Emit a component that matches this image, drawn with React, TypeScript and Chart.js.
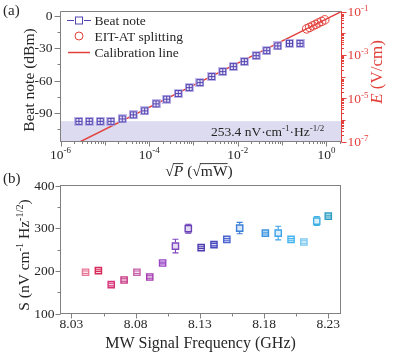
import React, { useEffect, useRef } from 'react';
import { Chart, registerables } from 'chart.js';

Chart.register(...registerables);

const FONT = '"Liberation Serif", "Times New Roman", serif';
const GRAY = '#808080';
const TEXT = '#262626';
const RED = '#e2403b';
const BEAT = '#5244b0';

// ---------- Panel (a) data ----------
const beatSqrtP = [2.6e-6, 4.45e-6, 7.87e-6, 1.37e-5, 2.47e-5, 4.38e-5, 7.9e-5, 1.43e-4, 2.48e-4, 4.54e-4, 8.0e-4, 1.4e-3, 2.58e-3, 4.56e-3, 7.9e-3, 0.014, 0.0258, 0.0449, 0.0796, 0.146, 0.253];
const beatNoteDbm = [-97.6, -97.6, -97.6, -97.6, -95.3, -91.6, -87.9, -81.4, -77.1, -71.9, -66.4, -61.8, -56.2, -51.6, -47.0, -42.4, -36.9, -32.3, -27.9, -25.5, -25.5];
const eitSqrtP = [0.357, 0.417, 0.49, 0.569, 0.66, 0.776, 0.912];
const eitField = [0.0158, 0.0185, 0.0218, 0.0254, 0.0296, 0.0348, 0.0411];
const calSqrtP = [1e-6, 2.2];
const calField = [3.45e-8, 0.1008];
const noiseFloorDbm = -97.4;

const aLeftTicks = [0, -30, -60, -90];
const aLeftMinor = [-15, -45, -75, -105];
const aBottomExp = [-6, -4, -2, 0];
const aRightExp = [-7, -5, -3, -1];

// ---------- Panel (b) data ----------
const freqGHz = [8.041, 8.051, 8.061, 8.071, 8.081, 8.091, 8.101, 8.111, 8.121, 8.131, 8.141, 8.151, 8.161, 8.181, 8.191, 8.201, 8.211, 8.221, 8.230];
const sensitivity = [196.6, 200.6, 167.8, 178.6, 196.6, 185.6, 218.4, 258, 298.8, 254.4, 261.4, 273.8, 300.2, 288.5, 288.5, 273.8, 267.5, 316.6, 328.3];
const sensErr = [3, 2, 3, 3, 3, 3, 2, 16, 10.5, 2, 3, 2, 13.3, 2, 16, 2, 3, 10.5, 2];
const pointColors = ['#e8789a', '#d82a5a', '#d8347a', '#c83886', '#c860a8', '#a63cb0', '#9a48c8', '#8048c0', '#6a40b8', '#4c3cb0', '#4848c0', '#4a64d0', '#3a7ed8', '#3c94e0', '#3ea4e8', '#44b4f0', '#78c8f0', '#3eb0e4', '#2c9ec4'];
const bYTicks = [100, 200, 300, 400];
const bYMinor = [150, 250, 350];
const bXTicks = [8.03, 8.08, 8.13, 8.18, 8.23];
const bXMinor = [8.055, 8.105, 8.155, 8.205];

type Part = { t: string; sup?: boolean; it?: boolean; over?: boolean };

function partFont(p: Part, size: number) {
  const s = p.sup ? size * 0.66 : size;
  return `${p.it ? 'italic ' : ''}${s}px ${FONT}`;
}

function drawRich(ctx: any, parts: Part[], x: number, y: number, size: number, align: string, color: string) {
  const ws: number[] = [];
  let w = 0;
  parts.forEach((p) => {
    ctx.font = partFont(p, size);
    const pw = ctx.measureText(p.t).width;
    ws.push(pw);
    w += pw;
  });
  let cx = align === 'center' ? x - w / 2 : align === 'right' ? x - w : x;
  ctx.fillStyle = color;
  ctx.strokeStyle = color;
  ctx.textAlign = 'left';
  ctx.textBaseline = 'alphabetic';
  parts.forEach((p, i) => {
    ctx.font = partFont(p, size);
    const dy = p.sup ? -size * 0.38 : 0;
    ctx.fillText(p.t, cx, y + dy);
    if (p.over) {
      ctx.beginPath();
      ctx.lineWidth = 0.9;
      ctx.moveTo(cx - 1, y - size * 0.8);
      ctx.lineTo(cx + ws[i], y - size * 0.8);
      ctx.stroke();
    }
    cx += ws[i];
  });
}

function makeBeatMarker() {
  const c = document.createElement('canvas');
  c.width = 9;
  c.height = 9;
  const g = c.getContext('2d')!;
  g.fillStyle = 'rgba(175,165,228,0.75)';
  g.fillRect(0, 0, 9, 9);
  g.fillStyle = 'rgba(235,232,250,0.9)';
  g.fillRect(1, 1, 7, 7);
  g.strokeStyle = BEAT;
  g.lineWidth = 1;
  g.strokeRect(1.5, 1.5, 6, 6);
  g.beginPath();
  g.moveTo(4.5, 1.5);
  g.lineTo(4.5, 7.5);
  g.moveTo(1.5, 4.5);
  g.lineTo(7.5, 4.5);
  g.stroke();
  return c;
}

const panelAPlugin = {
  id: 'panelA',
  beforeDatasetsDraw(chart: any) {
    const { ctx, chartArea: ca, scales } = chart;
    const yb = scales.y.getPixelForValue(noiseFloorDbm);
    ctx.save();
    ctx.fillStyle = '#dddbef';
    ctx.fillRect(ca.left, yb, ca.right - ca.left, ca.bottom - yb);
    ctx.restore();
  },
  afterDraw(chart: any) {
    const { ctx, chartArea: ca, scales } = chart;
    const { x, y, yE } = scales;
    ctx.save();
    // band text
    drawRich(ctx, [{ t: '253.4 nV·cm' }, { t: '-1', sup: true }, { t: '·Hz' }, { t: '-1/2', sup: true }], 267.5, 136, 13.5, 'center', TEXT);

    // frame
    ctx.strokeStyle = GRAY;
    ctx.lineWidth = 1;
    ctx.beginPath();
    ctx.moveTo(ca.left, ca.top);
    ctx.lineTo(ca.right, ca.top);
    ctx.moveTo(ca.left, ca.top);
    ctx.lineTo(ca.left, ca.bottom + 0.5);
    ctx.moveTo(ca.left, ca.bottom);
    ctx.lineTo(ca.right, ca.bottom);
    // left ticks
    aLeftTicks.forEach((v) => {
      const p = Math.round(y.getPixelForValue(v)) + 0.5;
      ctx.moveTo(ca.left - 6, p);
      ctx.lineTo(ca.left, p);
    });
    aLeftMinor.forEach((v) => {
      const p = Math.round(y.getPixelForValue(v)) + 0.5;
      ctx.moveTo(ca.left - 3, p);
      ctx.lineTo(ca.left, p);
    });
    // bottom log ticks
    for (let e = -6; e <= 0; e++) {
      for (let m = 1; m <= 9; m++) {
        const v = m * Math.pow(10, e);
        if (v > x.max) continue;
        const p = Math.round(x.getPixelForValue(v)) + 0.5;
        const len = m === 1 ? (e % 2 === 0 ? 5 : 4) : 2.5;
        ctx.moveTo(p, ca.bottom);
        ctx.lineTo(p, ca.bottom + len);
      }
    }
    ctx.stroke();

    // left labels
    ctx.fillStyle = TEXT;
    ctx.font = `13.5px ${FONT}`;
    ctx.textAlign = 'right';
    ctx.textBaseline = 'middle';
    aLeftTicks.forEach((v) => ctx.fillText(String(v), ca.left - 8, y.getPixelForValue(v) + 0.5));

    // bottom labels
    aBottomExp.forEach((e) => {
      const p = x.getPixelForValue(Math.pow(10, e));
      drawRich(ctx, [{ t: '10' }, { t: String(e), sup: true }], p, 158.5, 13.5, 'center', TEXT);
    });

    // right axis (red)
    ctx.strokeStyle = RED;
    ctx.lineWidth = 1;
    ctx.beginPath();
    ctx.moveTo(ca.right, ca.top);
    ctx.lineTo(ca.right, ca.bottom + 0.5);
    for (let e = -7; e <= -1; e++) {
      for (let m = 1; m <= 9; m++) {
        const v = m * Math.pow(10, e);
        if (v > yE.max * 1.0001) continue;
        const p = Math.round(yE.getPixelForValue(v)) + 0.5;
        const len = m === 1 ? (e % 2 !== 0 ? 5 : 4) : 2.5;
        ctx.moveTo(ca.right, p);
        ctx.lineTo(ca.right + len, p);
      }
    }
    ctx.stroke();
    aRightExp.forEach((e) => {
      const p = yE.getPixelForValue(Math.pow(10, e));
      drawRich(ctx, [{ t: '10' }, { t: String(e), sup: true }], ca.right + 6, p + 4.5, 13.5, 'left', RED);
    });

    // titles
    ctx.save();
    ctx.translate(29, 80);
    ctx.rotate(-Math.PI / 2);
    drawRich(ctx, [{ t: 'Beat note (dBm)' }], 0, 5, 15.5, 'center', TEXT);
    ctx.restore();

    ctx.save();
    ctx.translate(376, 72);
    ctx.rotate(-Math.PI / 2);
    drawRich(ctx, [{ t: 'E', it: true }, { t: ' (V/cm)' }], 0, 5.5, 17, 'center', RED);
    ctx.restore();

    drawRich(ctx, [{ t: '√' }, { t: 'P', it: true, over: true }, { t: ' (√' }, { t: 'mW', over: true }, { t: ')' }], 199, 176, 15.5, 'center', TEXT);

    // panel label
    drawRich(ctx, [{ t: '(a)' }], 3, 15, 15, 'left', TEXT);

    // legend
    const ds = chart.data.datasets;
    const lx = 79;
    ctx.strokeStyle = BEAT;
    ctx.lineWidth = 1;
    ctx.beginPath();
    ctx.moveTo(67, 20.5);
    ctx.lineTo(74, 20.5);
    ctx.moveTo(84, 20.5);
    ctx.lineTo(91, 20.5);
    ctx.stroke();
    ctx.fillStyle = 'rgba(255,255,255,1)';
    ctx.fillRect(lx - 3.5, 17, 7, 7);
    ctx.strokeRect(lx - 3.5, 17, 7, 7);
    ctx.strokeStyle = RED;
    ctx.beginPath();
    ctx.arc(lx, 36, 4, 0, Math.PI * 2);
    ctx.stroke();
    ctx.lineWidth = 1.5;
    ctx.beginPath();
    ctx.moveTo(68, 52.5);
    ctx.lineTo(90, 52.5);
    ctx.stroke();
    drawRich(ctx, [{ t: ds[0].label }], 94.5, 25, 13.5, 'left', TEXT);
    drawRich(ctx, [{ t: ds[1].label }], 94.5, 41, 13.5, 'left', TEXT);
    drawRich(ctx, [{ t: ds[2].label }], 94.5, 57, 13.5, 'left', TEXT);
    ctx.restore();
  },
};

const panelBPlugin = {
  id: 'panelB',
  afterDatasetsDraw(chart: any) {
    const { ctx, scales } = chart;
    const { x, y } = scales;
    ctx.save();
    ctx.lineWidth = 1.1;
    const half = 3.6;
    freqGHz.forEach((f, i) => {
      const px = x.getPixelForValue(f);
      const py = y.getPixelForValue(sensitivity[i]);
      const top = y.getPixelForValue(sensitivity[i] + sensErr[i]);
      const bot = y.getPixelForValue(sensitivity[i] - sensErr[i]);
      ctx.strokeStyle = pointColors[i];
      ctx.beginPath();
      if (py - top > half) {
        ctx.moveTo(px, top);
        ctx.lineTo(px, py - half);
        ctx.moveTo(px, py + half);
        ctx.lineTo(px, bot);
      }
      ctx.moveTo(px - 3, top);
      ctx.lineTo(px + 3, top);
      ctx.moveTo(px - 3, bot);
      ctx.lineTo(px + 3, bot);
      ctx.stroke();
    });
    ctx.restore();
  },
  afterDraw(chart: any) {
    const { ctx, chartArea: ca, scales } = chart;
    const { x, y } = scales;
    ctx.save();
    ctx.strokeStyle = GRAY;
    ctx.lineWidth = 1;
    ctx.strokeRect(ca.left, ca.top, ca.right - ca.left, ca.bottom - ca.top);
    ctx.beginPath();
    bYTicks.forEach((v) => {
      const p = Math.round(y.getPixelForValue(v)) + 0.5;
      ctx.moveTo(ca.left - 5, p);
      ctx.lineTo(ca.left, p);
    });
    bYMinor.forEach((v) => {
      const p = Math.round(y.getPixelForValue(v)) + 0.5;
      ctx.moveTo(ca.left - 3, p);
      ctx.lineTo(ca.left, p);
    });
    bXTicks.forEach((v) => {
      const p = Math.round(x.getPixelForValue(v)) + 0.5;
      ctx.moveTo(p, ca.bottom);
      ctx.lineTo(p, ca.bottom + 5);
    });
    bXMinor.forEach((v) => {
      const p = Math.round(x.getPixelForValue(v)) + 0.5;
      ctx.moveTo(p, ca.bottom);
      ctx.lineTo(p, ca.bottom + 3);
    });
    ctx.stroke();

    ctx.fillStyle = TEXT;
    ctx.font = `13.5px ${FONT}`;
    ctx.textAlign = 'right';
    ctx.textBaseline = 'middle';
    bYTicks.forEach((v) => ctx.fillText(String(v), ca.left - 6, y.getPixelForValue(v) + 0.5));
    bXTicks.forEach((v) => drawRich(ctx, [{ t: v.toFixed(2) }], x.getPixelForValue(v), 158.3, 13.5, 'center', TEXT));

    drawRich(ctx, [{ t: 'MW Signal Frequency (GHz)' }], 200.5, 178, 16, 'center', TEXT);

    ctx.save();
    ctx.translate(23.5, 85);
    ctx.rotate(-Math.PI / 2);
    drawRich(ctx, [{ t: 'S (nV cm' }, { t: '-1', sup: true }, { t: ' Hz' }, { t: '-1/2', sup: true }, { t: ')' }], 0, 5, 15.5, 'center', TEXT);
    ctx.restore();

    drawRich(ctx, [{ t: '(b)' }], 3, 13, 15, 'left', TEXT);
    ctx.restore();
  },
};

export default function App() {
  const refA = useRef<HTMLCanvasElement>(null);
  const refB = useRef<HTMLCanvasElement>(null);

  useEffect(() => {
    const beatMarker = makeBeatMarker();
    const chartA = new Chart(refA.current!, {
      type: 'scatter',
      data: {
        datasets: [
          {
            label: 'Beat note',
            data: beatSqrtP.map((v, i) => ({ x: v, y: beatNoteDbm[i] })),
            yAxisID: 'y',
            pointStyle: beatMarker as any,
            pointRadius: 4.5,
            showLine: false,
          },
          {
            label: 'EIT-AT splitting',
            data: eitSqrtP.map((v, i) => ({ x: v, y: eitField[i] })),
            yAxisID: 'yE',
            pointStyle: 'circle',
            pointRadius: 4.3,
            pointBorderColor: RED,
            pointBackgroundColor: 'rgba(255,255,255,0)',
            pointBorderWidth: 1,
            showLine: false,
          },
          {
            label: 'Calibration line',
            data: calSqrtP.map((v, i) => ({ x: v, y: calField[i] })),
            yAxisID: 'yE',
            showLine: true,
            pointRadius: 0,
            borderColor: RED,
            borderWidth: 1.5,
          },
        ],
      },
      options: {
        responsive: false,
        animation: false,
        devicePixelRatio: 1,
        layout: { padding: { left: 60.5, right: 54.5, top: 11.5, bottom: 38.5 } },
        plugins: { legend: { display: false }, tooltip: { enabled: false } },
        scales: {
          x: { type: 'logarithmic', min: 1e-6, max: 2.18, display: false },
          y: { type: 'linear', min: -116.2, max: 3.9, display: false },
          yE: { type: 'logarithmic', min: 1e-7, max: 0.1, display: false, position: 'right' },
        },
      } as any,
      plugins: [panelAPlugin],
    });

    const chartB = new Chart(refB.current!, {
      type: 'scatter',
      data: {
        datasets: [
          {
            label: 'S',
            data: freqGHz.map((v, i) => ({ x: v, y: sensitivity[i] })),
            pointStyle: 'rect',
            pointRadius: 4.4,
            pointBorderWidth: 1.4,
            pointBorderColor: pointColors,
            pointBackgroundColor: pointColors.map((c) => c + '30'),
            showLine: false,
          },
        ],
      },
      options: {
        responsive: false,
        animation: false,
        devicePixelRatio: 1,
        layout: { padding: { left: 60.5, right: 55.5, top: 15.5, bottom: 42.5 } },
        plugins: { legend: { display: false }, tooltip: { enabled: false } },
        scales: {
          x: { type: 'linear', min: 8.0215, max: 8.2395, display: false },
          y: { type: 'linear', min: 100, max: 400, display: false },
        },
      } as any,
      plugins: [panelBPlugin],
    });

    return () => {
      chartA.destroy();
      chartB.destroy();
    };
  }, []);

  return (
    <div style={{ position: 'fixed', left: 0, top: 0, width: 396, height: 356, background: '#fff' }}>
      <canvas ref={refA} width={396} height={180} style={{ position: 'absolute', left: 0, top: 0 }} />
      <canvas ref={refB} width={396} height={186} style={{ position: 'absolute', left: 0, top: 170 }} />
    </div>
  );
}
